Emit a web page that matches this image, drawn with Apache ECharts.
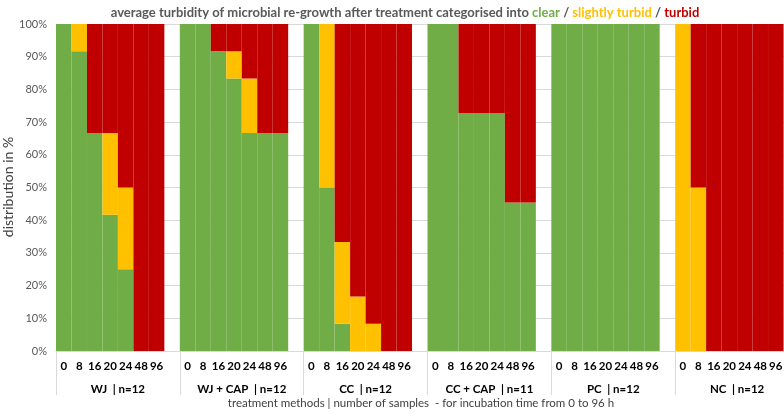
<!DOCTYPE html>
<html>
<head>
<meta charset="utf-8">
<script src="https://cdn.jsdelivr.net/npm/echarts@6/dist/echarts.min.js"></script>
<style>html,body{margin:0;padding:0;background:#fff;}#c{width:784px;height:413px;}</style>
</head>
<body>
<div id="c"></div>
<script>
const times = ['0', '8', '16', '20', '24', '48', '96'];
const groups = ['WJ  | n=12', 'WJ + CAP  | n=12', 'CC  | n=12', 'CC + CAP  | n=11', 'PC  | n=12', 'NC  | n=12'];
const clearPct = [
  [100, 91.67, 66.67, 41.67, 25, 0, 0],
  [100, 100, 91.67, 83.33, 66.67, 66.67, 66.67],
  [100, 50, 8.33, 0, 0, 0, 0],
  [100, 100, 72.73, 72.73, 72.73, 45.45, 45.45],
  [100, 100, 100, 100, 100, 100, 100],
  [0, 0, 0, 0, 0, 0, 0]
];
const slightlyTurbidPct = [
  [0, 8.33, 0, 25, 25, 0, 0],
  [0, 0, 0, 8.33, 16.67, 0, 0],
  [0, 50, 25, 16.67, 8.33, 0, 0],
  [0, 0, 0, 0, 0, 0, 0],
  [0, 0, 0, 0, 0, 0, 0],
  [100, 50, 0, 0, 0, 0, 0]
];
const turbidPct = [
  [0, 0, 33.33, 33.33, 50, 100, 100],
  [0, 0, 8.33, 8.33, 16.67, 33.33, 33.33],
  [0, 0, 66.67, 83.33, 91.67, 100, 100],
  [0, 0, 27.27, 27.27, 27.27, 54.55, 54.55],
  [0, 0, 0, 0, 0, 0, 0],
  [0, 50, 100, 100, 100, 100, 100]
];

function flatten(arr) {
  const out = [];
  arr.forEach(g => { g.forEach(v => out.push(v)); out.push('-'); });
  return out;
}
const cats = [];
groups.forEach(() => { times.forEach(t => cats.push(t)); cats.push(''); });

const FONT = 'Lato';
const TS = 13;
const chart = echarts.init(document.getElementById('c'));
chart.setOption({
  animation: false,
  title: {
    text: '{g|average turbidity of microbial re-growth after treatment categorised into }{c|clear}{g| / }{s|slightly turbid}{g| / }{t|turbid}',
    left: 400, top: 1, textAlign: 'center',
    textStyle: {
      rich: {
        g: {color: '#595959', fontWeight: 'bold', fontSize: TS, fontFamily: FONT},
        c: {color: '#70AD47', fontWeight: 'bold', fontSize: TS, fontFamily: FONT},
        s: {color: '#FFC000', fontWeight: 'bold', fontSize: TS, fontFamily: FONT},
        t: {color: '#C00000', fontWeight: 'bold', fontSize: TS, fontFamily: FONT}
      }
    }
  },
  grid: {left: 56, right: -15, top: 24, bottom: 62, outerBoundsMode: 'none', containLabel: false},
  xAxis: [
    {
      type: 'category', data: cats, position: 'bottom',
      axisLine: {lineStyle: {color: '#d9d9d9'}},
      axisTick: {show: false},
      axisLabel: {interval: 0, fontFamily: FONT, fontSize: 11.5, fontWeight: 'bold', color: '#000', margin: 9}
    },
    {
      type: 'category', data: groups, position: 'bottom',
      axisLine: {show: false},
      axisTick: {show: true, length: 44, lineStyle: {color: '#d9d9d9'}},
      axisLabel: {interval: 0, fontFamily: FONT, fontSize: 11.5, fontWeight: 'bold', color: '#000', margin: 32}
    }
  ],
  yAxis: {
    type: 'value', min: 0, max: 100, interval: 10,
    axisLabel: {formatter: '{value}%', fontFamily: FONT, fontSize: 11, color: '#595959', margin: 9},
    splitLine: {lineStyle: {color: '#d9d9d9'}},
    axisLine: {show: false}, axisTick: {show: false}
  },
  graphic: [{
    type: 'text', x: 421, y: 397,
    style: {text: 'treatment methods | number of samples  - for incubation time from 0 to 96 h', font: '11.5px Lato', fill: '#404040', textAlign: 'center'}
  }, {
    type: 'text', x: 8, y: 187, rotation: Math.PI / 2,
    style: {text: 'distribution in %', font: '14px Lato', fill: '#404040', textAlign: 'center', textVerticalAlign: 'middle'}
  }],
  series: [
    {name: 'clear', type: 'bar', stack: 'a', barCategoryGap: '0%', data: flatten(clearPct), itemStyle: {color: '#70AD47'}},
    {name: 'slightly turbid', type: 'bar', stack: 'a', data: flatten(slightlyTurbidPct), itemStyle: {color: '#FFC000'}},
    {name: 'turbid', type: 'bar', stack: 'a', data: flatten(turbidPct), itemStyle: {color: '#C00000'}}
  ]
});
</script>
</body>
</html>
